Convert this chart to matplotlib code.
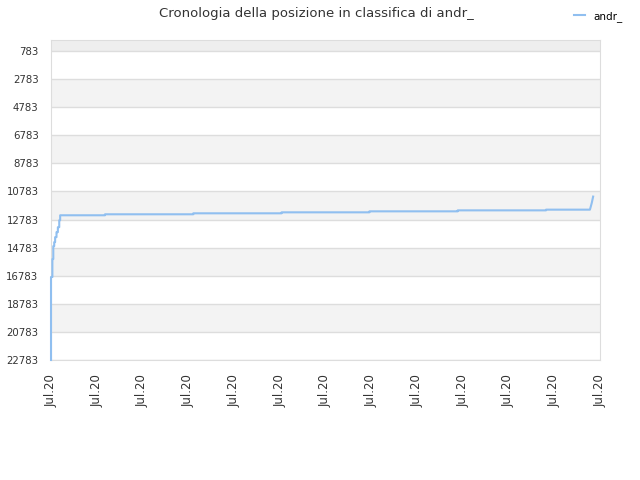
import matplotlib
matplotlib.use("Agg")
import matplotlib.pyplot as plt

# data: x in tick intervals (13 ticks all "Jul.20"), y = rank position
x = [0.00, 0.00, 0.03, 0.03, 0.05, 0.05, 0.07, 0.07, 0.09, 0.09, 0.12, 0.12,
     0.15, 0.15, 0.18, 0.18, 0.20, 0.20, 1.18, 1.18, 3.11, 3.11, 5.04, 5.04,
     6.96, 6.96, 8.89, 8.89, 10.82, 10.82, 11.78, 11.82, 11.85]
y = [22783, 16874, 16874, 15598, 15598, 14676, 14676, 14393, 14393, 14038, 14038, 13683,
     13683, 13329, 13329, 12833, 12833, 12480, 12480, 12410, 12410, 12340, 12340, 12270,
     12270, 12200, 12200, 12130, 12130, 12080, 12080, 11600, 11150]
yticks = [783, 2783, 4783, 6783, 8783, 10783, 12783, 14783, 16783, 18783, 20783, 22783]
xlabels = ["Jul.20"] * 13
name = "andr_"

fig = plt.figure(figsize=(6.4, 4.8), dpi=100)
ax = fig.add_axes([0.0797, 0.25, 0.8578, 0.6667])

# alternating bands
ax.axhspan(1, 783, color="#eeeeee", zorder=0, lw=0)
for i in range(len(yticks) - 1):
    if i % 2 == 1:
        ax.axhspan(yticks[i], yticks[i + 1], color="#f3f3f3", zorder=0, lw=0)
for t in yticks:
    ax.axhline(t, color="#dddddd", lw=1, zorder=1)

ax.plot(x, y, color="#90bff0", lw=1.5, label=name, zorder=3, clip_on=False)

ax.set_ylim(22783, 1)
ax.set_xlim(0, 12)
ax.set_yticks(yticks)
ax.set_yticklabels([str(t) for t in yticks])
ax.set_xticks(range(13))
ax.set_xticklabels(xlabels, rotation=90)
ax.tick_params(axis="y", length=0, labelsize=7.3, colors="#333333", pad=9)
ax.tick_params(axis="x", length=0, labelsize=8.5, colors="#333333", pad=10)
for s in ax.spines.values():
    s.set_color("#dddddd")
    s.set_zorder(2)

fig.suptitle("Cronologia della posizione in classifica di andr_", fontsize=9.5,
             color="#333333", x=0.495, y=0.985)
fig.legend(loc="upper right", bbox_to_anchor=(0.987, 0.997), frameon=False,
           fontsize=7.5, handlelength=1.0)

fig.savefig("out.png", dpi=100)
